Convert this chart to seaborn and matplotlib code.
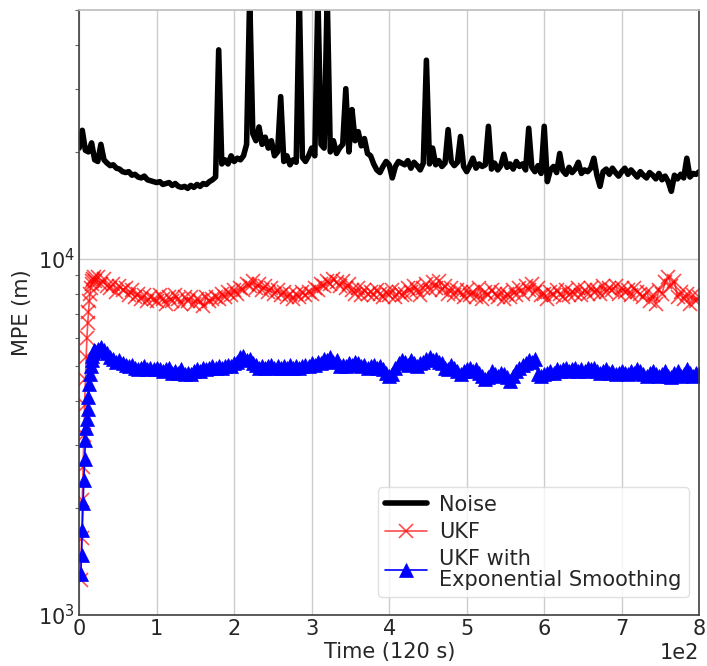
import numpy as np
import pandas as pd
import matplotlib
matplotlib.use("Agg")
import matplotlib.pyplot as plt
import seaborn as sns

# ---------------- data ----------------
t_noise = np.arange(0, 801, 4)
noise = [
    20500, 23000, 20200, 20000, 21200,
    19000, 18800, 21000, 19000, 18600, 18300, 18400, 18000, 17900, 17600,
    17500, 17600, 17200, 17300, 17000, 16900, 17100, 16700, 16600, 16500,
    16400, 16500, 16200, 16300, 16400, 16100, 16300, 16000, 15900, 16000,
    15800, 16100, 15900, 16200, 16000, 16300, 16200, 16500, 16700, 17000,
    38700, 18500, 19000, 18500, 19500, 18800, 19200, 19000, 19500, 21000,
    55000, 22500, 21500, 23500, 21000, 22000, 20500, 21500, 19500, 20000,
    28600, 18800, 19500, 18400, 19000, 18700, 55000, 19300, 18800, 19500,
    20500, 19500, 55000, 21000, 20500, 55000, 20000, 21500, 19800, 20500,
    21000, 30100, 20000, 26300, 21500, 22800, 20800, 21800, 19800, 19500,
    18500, 17800, 17500, 18200, 18800, 18400, 16900, 18200, 18800, 18600,
    18400, 18900, 18000, 18700, 18300, 17800, 18600, 36200, 18500, 20500,
    18400, 18900, 18200, 18600, 23100, 18800, 18300, 18700, 22100, 18200,
    17600, 18300, 19200, 18000, 18500, 18200, 18400, 23600, 17900, 18600,
    17800, 18300, 19700, 18100, 18500, 17900, 18800, 18200, 18500, 17800,
    23300, 18100, 17600, 18300, 17400, 23600, 16500, 17800, 18200, 17500,
    19800, 17700, 17300, 18100, 17500, 17900, 18700, 17400, 17800, 17600,
    18000, 19200, 17200, 16000, 17600, 17900, 17300, 18000, 17500, 17100,
    17600, 18000, 17300, 17800, 17400, 17000, 17600, 17200, 16900, 17500,
    17200, 16800, 17400, 16700, 17100, 16500, 15500, 17200, 16800, 17300,
    16900, 19200, 17000, 17400, 17300, 17600,
]

t_filter = np.concatenate([np.arange(2, 20), np.arange(20, 801, 4)])
ukf = [
    1250, 1650, 2100, 2600, 3200, 3900, 4600, 5300, 6000, 6600, 7100, 7600,
    8000, 8300, 8500, 8700, 8800, 8900,
    8700, 8900, 8500, 8800, 8400, 8300, 8500, 8100, 8400, 8200,
    8300, 7900, 8200, 7800, 8000, 7700, 7900, 7600, 7800, 7700,
    7600, 7900, 7700, 7500, 7800, 7600, 7900, 7700, 7500, 7800,
    7600, 7800, 7500, 7700, 7600, 7400, 7800, 7600, 7700, 7800,
    7700, 8000, 7800, 8100, 7900, 8200, 8000, 8300, 8200, 8500,
    8400, 8700, 8300, 8500, 8200, 8400, 8100, 8300, 8000, 8200,
    7900, 8100, 7800, 8000, 7700, 8000, 7800, 8100, 7900, 8100,
    8000, 8300, 8200, 8500, 8400, 8700, 8500, 8800, 8600, 8400,
    8700, 8300, 8500, 8200, 8000, 8300, 7900, 8200, 8000, 8100,
    7900, 8200, 8000, 7800, 8100, 7900, 8200, 7800, 8100, 7900,
    8000, 8300, 8100, 8400, 8200, 7900, 8300, 8500, 8200, 8600,
    8300, 8700, 8200, 8400, 8000, 8300, 7900, 8200, 8100, 7800,
    8200, 7900, 8100, 7800, 8300, 7700, 8100, 7900, 8200, 8000,
    7800, 8100, 7700, 8000, 7800, 8200, 7900, 8300, 8000, 8400,
    8200, 8500, 8100, 8300, 7900, 8000, 7700, 8100, 7900, 8200,
    8000, 7800, 8200, 7900, 8100, 8000, 8300, 7900, 8200, 8000,
    8300, 8100, 8200, 8000, 8400, 8100, 8300, 8200, 8400, 8000,
    8300, 8100, 8200, 7900, 8300, 8100, 8000, 7800, 8100, 7600,
    7900, 7500, 8200, 8000, 8600, 8900, 8400, 8700, 7800, 8100,
    7700, 8000, 7500, 7900, 7600, 7800,
]
ukf_es = [
    1300, 1470, 1730, 2060, 2400, 2750, 3100, 3350, 3550, 3800, 4100, 4450,
    4750, 5000, 5200, 5350, 5450, 5550,
    5500, 5600, 5650, 5550, 5450, 5300, 5250, 5150, 5200, 5100,
    5050, 5000, 5050, 4950, 4900, 4950, 5000, 4900, 4950, 4900,
    4950, 4900, 4850, 4900, 4950, 4800, 4850, 4800, 4900, 4750,
    4800, 4750, 4850, 4900, 4850, 4950, 4900, 4950, 5000, 4950,
    5000, 4950, 5000, 5050, 5000, 5100, 5150, 5300, 5350, 5200,
    5250, 5100, 5050, 4950, 5000, 4950, 5000, 5050, 4950, 5000,
    4950, 5000, 4950, 5050, 4950, 5000, 4950, 5000, 5050, 5000,
    5100, 5050, 5150, 5100, 5250, 5200, 5300, 5150, 5200, 5000,
    5050, 5000, 5100, 5050, 5150, 5100, 5000, 5050, 4950, 5000,
    5050, 4950, 5000, 4900, 4800, 4700, 4750, 4950, 5100, 5200,
    5150, 5050, 5200, 5100, 5000, 5100, 5150, 5250, 5300, 5200,
    5250, 5150, 5100, 4950, 4900, 5050, 4950, 4850, 4750, 4850,
    4900, 4950, 4850, 4900, 4800, 4700, 4600, 4650, 4850, 4750,
    4700, 4800, 4750, 4650, 4550, 4700, 4850, 4950, 5050, 5100,
    5200, 5150, 5250, 4750, 4700, 4750, 4800, 4850, 4800, 4900,
    4850, 4900, 4950, 4850, 4900, 4950, 4850, 4900, 4850, 4950,
    4900, 4950, 4850, 4800, 4850, 4900, 4800, 4850, 4750, 4800,
    4850, 4800, 4750, 4850, 4800, 4900, 4850, 4750, 4700, 4800,
    4850, 4750, 4700, 4750, 4850, 4700, 4650, 4800, 4850, 4700,
    4750, 4900, 4800, 4700, 4800, 4750,
]

labels = ["Noise", "UKF", "UKF with\nExponential Smoothing"]
x_label = "Time (120 s)"
y_label = "MPE (m)"

df_noise = pd.DataFrame({"t": t_noise, "v": noise})
df_filt = pd.DataFrame({"t": t_filter, "ukf": ukf, "es": ukf_es})

# ---------------- plot ----------------
sns.set_theme(style="whitegrid")
plt.rcParams["font.family"] = ["DejaVu Sans"]

fig = plt.figure(figsize=(7.07, 6.66), dpi=100)
ax = fig.add_axes([0.112, 0.0766, 0.877, 0.908])

sns.lineplot(data=df_noise, x="t", y="v", ax=ax, color="black", lw=4,
             label=labels[0], estimator=None)
sns.lineplot(data=df_filt, x="t", y="ukf", ax=ax, color="red", lw=1.2,
             marker="x", markersize=10, markeredgewidth=1.2,
             markeredgecolor="red", markerfacecolor="red", alpha=0.7,
             label=labels[1], estimator=None)
sns.lineplot(data=df_filt, x="t", y="es", ax=ax, color="blue", lw=1.2,
             marker="^", markersize=10, markeredgewidth=0.5,
             markeredgecolor="blue", markerfacecolor="blue", alpha=1.0,
             label=labels[2], estimator=None)

ax.set_yscale("log")
ax.set_ylim(1e3, 5e4)
ax.set_xlim(0, 800)
ax.set_xticks(np.arange(0, 801, 100))
ax.ticklabel_format(axis="x", style="sci", scilimits=(0, 0))
ax.xaxis.get_offset_text().set_fontsize(15)

ax.set_xlabel(x_label, fontsize=15, labelpad=2)
ax.set_ylabel(y_label, fontsize=15, labelpad=4)
ax.tick_params(axis="both", which="major", labelsize=15, length=0, pad=3)
ax.tick_params(axis="y", which="minor", left=True, length=3, width=0.8, color="0.4")

ax.grid(True, which="major", color="0.8", lw=1)
ax.grid(False, which="minor")

for side in ["left", "bottom", "right"]:
    ax.spines[side].set_color("0.25")
    ax.spines[side].set_linewidth(1.2)
ax.spines["top"].set_color("0.75")

leg = ax.legend(loc="lower right", fontsize=15, frameon=True,
                borderpad=0.35, labelspacing=0.35, handlelength=2.0,
                handletextpad=0.6, bbox_to_anchor=(1.0, 0.012))
leg.get_frame().set_edgecolor("0.85")
for txt in leg.get_texts():
    txt.set_linespacing(1.05)

fig.savefig("out.png", dpi=100)
